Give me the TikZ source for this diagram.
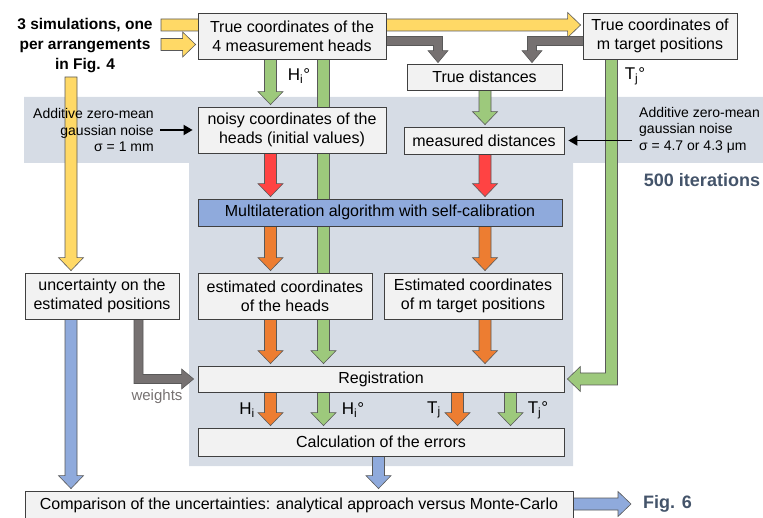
\documentclass[tikz,border=0pt]{standalone}
\usepackage{fontspec}
\setsansfont{Liberation Sans}
\RequirePackage{xcolor}
\tikzset{every picture/.style={/utils/exec={\sffamily}}}
\usetikzlibrary{calc}
\usetikzlibrary{arrows.meta}

\definecolor{bgblue}{HTML}{D6DCE5}
\definecolor{boxgray}{HTML}{F2F2F2}
\definecolor{edgegray}{HTML}{404040}
\definecolor{simyellow}{HTML}{FFD966}
\definecolor{truegreen}{HTML}{9DC97C}
\definecolor{noisered}{HTML}{FF4343}
\definecolor{estorange}{HTML}{ED7D31}
\definecolor{resblue}{HTML}{8FAADC}
\definecolor{wgray}{HTML}{767171}
\definecolor{slate}{HTML}{44546A}

\pgfdeclarelayer{shade}
\pgfdeclarelayer{pipes}
\pgfsetlayers{shade,pipes,main}

\tikzset{
  box/.style={draw=edgegray, fill=boxgray, line width=0.8pt, align=center, inner sep=0pt, font=\fontsize{16}{19}\selectfont},
  fat/.style={draw=black!65, line width=0.6pt, line join=miter},
  lbl/.style={inner sep=0pt, font=\fontsize{17}{19}\selectfont},
  note/.style={inner sep=0pt, font=\fontsize{14}{16.5}\selectfont},
  big/.style={inner sep=0pt, text=slate, font=\bfseries\fontsize{18}{20}\selectfont},
}

% fat arrow going down: colour, start, box it points at
\newcommand\vfat[3]{%
  \filldraw[fat,fill=#1] let \p1=#2, \p2=#3 in
    (\x1-6pt,\y1) -- (\x1-6pt,\y2+15pt) -- (\x1-12.5pt,\y2+15pt) -- (\x1,\y2+2pt)
    -- (\x1+12.5pt,\y2+15pt) -- (\x1+6pt,\y2+15pt) -- (\x1+6pt,\y1) -- cycle;}
% fat arrow going right
\newcommand\hfat[3]{%
  \filldraw[fat,fill=#1] let \p1=#2, \p2=#3 in
    (\x1,\y1+6pt) -- (\x2-15pt,\y1+6pt) -- (\x2-15pt,\y1+12.5pt) -- (\x2-2pt,\y1)
    -- (\x2-15pt,\y1-12.5pt) -- (\x2-15pt,\y1-6pt) -- (\x1,\y1-6pt) -- cycle;}

\begin{document}
\begin{tikzpicture}[x=1pt,y=-1pt]
  \useasboundingbox (0,0) rectangle (763,518);

  \begin{pgfonlayer}{shade}
    \fill[bgblue] (24,97) -- (763,97) -- (763,163) -- (573,163) -- (573,466)
      -- (189,466) -- (189,163) -- (24,163) -- cycle;
  \end{pgfonlayer}

  % columns of the arrows
  \coordinate (cU) at (71,0);
  \coordinate (cW) at (138.5,0);
  \coordinate (cH) at (270.5,0);
  \coordinate (cHo) at (323.5,0);
  \coordinate (cE) at (378.5,0);
  \coordinate (cG1) at (438,0);
  \coordinate (cTj) at (457.5,0);
  \coordinate (cT) at (485,0);
  \coordinate (cTjo) at (510.5,0);
  \coordinate (cG2) at (532,0);
  \coordinate (cTo) at (611.5,0);
  \coordinate (ys1) at (161,25);
  \coordinate (ys2) at (161,44.5);
  \coordinate (ys3) at (71,77);

  \node[box, minimum width=188pt, minimum height=46pt] (heads) at (292,36) {True coordinates of the\\4 measurement heads};
  \node[box, minimum width=154pt, minimum height=46pt] (targets) at (660,36) {True coordinates of\\m target positions};
  \node[box, minimum width=155pt, minimum height=26pt] (truedist) at (484.5,77) {True distances};
  \node[box, minimum width=188pt, minimum height=46pt] (noisy) at (292,130) {noisy coordinates of the\\heads (initial values)};
  \node[box, minimum width=160pt, minimum height=27pt] (measured) at (484,140.5) {measured distances};
  \node[box, fill=resblue, minimum width=364pt, minimum height=27pt] (multi) at (380,212.5) {Multilateration algorithm with self-calibration};
  \node[box, minimum width=154pt, minimum height=46pt] (uncert) at (102,296) {uncertainty on the\\estimated positions};
  \node[box, minimum width=174pt, minimum height=46pt] (esthead) at (285,296) {estimated coordinates\\of the heads};
  \node[box, minimum width=178pt, minimum height=46pt] (esttarget) at (473,296) {Estimated coordinates\\of m target positions};
  \node[box, minimum width=366pt, minimum height=26pt] (registration) at (381,379) {Registration};
  \node[box, minimum width=366pt, minimum height=28pt] (errors) at (381,442) {Calculation of the errors};
  \node[box, minimum width=548pt, minimum height=29pt] (compare) at (299,505.5) {Comparison of the uncertainties: analytical approach versus Monte-Carlo};

  \node[inner sep=0pt, align=center, font=\bfseries\fontsize{15.5}{20}\selectfont] (sims) at (85,46) {3 simulations, one\\per arrangements\\in Fig. 4};
  \node[note, align=right, anchor=east] (noiseL) at (154,130) {Additive zero-mean\\gaussian noise\\σ = 1 mm};
  \node[note, align=left, anchor=west] (noiseR) at (639,130) {Additive zero-mean\\gaussian noise\\σ = 4.7 or 4.3 μm};
  \node[big] (iter) at (702,180) {500 iterations};
  \node[big, anchor=west] (fig6) at (643,504) {Fig. 6};
  \node[note, text=wgray, font=\fontsize{15}{17}\selectfont] (wlbl) at (157,397) {weights};

  \node[lbl] (lHo) at (299,76) {H\textsubscript{i}°};
  \node[lbl] (lTo) at (635,76) {T\textsubscript{j}°};
  \node[lbl] (lHi2) at (247,410) {H\textsubscript{i}};
  \node[lbl] (lHo2) at (353,410) {H\textsubscript{i}°};
  \node[lbl] (lTj2) at (434,410) {T\textsubscript{j}};
  \node[lbl] (lTo2) at (538,410) {T\textsubscript{j}°};

  \begin{pgfonlayer}{pipes}
    \hfat{simyellow}{(ys1)}{(targets.west |- ys1)}
    \hfat{simyellow}{(ys2)}{(heads.west |- ys2)}
    \vfat{simyellow}{(ys3)}{(uncert.north -| cU)}

    \vfat{truegreen}{(heads.south -| cH)}{(noisy.north -| cH)}
    \vfat{truegreen}{(heads.south -| cHo)}{(registration.north -| cHo)}
    \vfat{truegreen}{(truedist.south -| cT)}{(measured.north -| cT)}
    \vfat{noisered}{(noisy.south -| cH)}{(multi.north -| cH)}
    \vfat{noisered}{(measured.south -| cT)}{(multi.north -| cT)}
    \vfat{estorange}{(multi.south -| cH)}{(esthead.north -| cH)}
    \vfat{estorange}{(multi.south -| cT)}{(esttarget.north -| cT)}
    \vfat{estorange}{(esthead.south -| cH)}{(registration.north -| cH)}
    \vfat{estorange}{(esttarget.south -| cT)}{(registration.north -| cT)}
    \vfat{estorange}{(registration.south -| cH)}{(errors.north -| cH)}
    \vfat{truegreen}{(registration.south -| cHo)}{(errors.north -| cHo)}
    \vfat{estorange}{(registration.south -| cTj)}{(errors.north -| cTj)}
    \vfat{truegreen}{(registration.south -| cTjo)}{(errors.north -| cTjo)}
    \vfat{resblue}{(uncert.south -| cU)}{(compare.north -| cU)}
    \vfat{resblue}{(errors.south -| cE)}{(compare.north -| cE)}
    \hfat{resblue}{(compare.east |- fig6.west)}{([xshift=-10pt]fig6.west)}

    % bent ones
    \filldraw[fat,fill=wgray] let \p1=([yshift=-5pt]heads.east), \p2=(truedist.north -| cG1) in
      (\x1,\y1+4.5pt) -- (\x2+4.5pt,\y1+4.5pt) -- (\x2+4.5pt,\y2+13pt) -- (\x2+10pt,\y2+13pt)
      -- (\x2,\y2+1pt) -- (\x2-10pt,\y2+13pt) -- (\x2-4.5pt,\y2+13pt) -- (\x2-4.5pt,\y1-4.5pt)
      -- (\x1,\y1-4.5pt) -- cycle;
    \filldraw[fat,fill=wgray] let \p1=([yshift=-5pt]targets.west), \p2=(truedist.north -| cG2) in
      (\x1,\y1+4.5pt) -- (\x2-4.5pt,\y1+4.5pt) -- (\x2-4.5pt,\y2+13pt) -- (\x2-10pt,\y2+13pt)
      -- (\x2,\y2+1pt) -- (\x2+10pt,\y2+13pt) -- (\x2+4.5pt,\y2+13pt) -- (\x2+4.5pt,\y1-4.5pt)
      -- (\x1,\y1-4.5pt) -- cycle;
    \filldraw[fat,fill=wgray] let \p1=(uncert.south -| cW), \p2=([xshift=-4pt]registration.west) in
      (\x1-4.5pt,\y1) -- (\x1-4.5pt,\y2-4.5pt) -- (\x2-12pt,\y2-4.5pt) -- (\x2-12pt,\y2-10pt)
      -- (\x2,\y2) -- (\x2-12pt,\y2+10pt) -- (\x2-12pt,\y2+4.5pt) -- (\x1+4.5pt,\y2+4.5pt)
      -- (\x1+4.5pt,\y1) -- cycle;
    \filldraw[fat,fill=truegreen] let \p1=(targets.south -| cTo), \p2=([xshift=3pt]registration.east) in
      (\x1+6pt,\y1) -- (\x1+6pt,\y2-6pt) -- (\x2+13pt,\y2-6pt) -- (\x2+13pt,\y2-12.5pt)
      -- (\x2,\y2) -- (\x2+13pt,\y2+12.5pt) -- (\x2+13pt,\y2+6pt) -- (\x1-6pt,\y2+6pt)
      -- (\x1-6pt,\y1) -- cycle;
  \end{pgfonlayer}

  \draw[line width=1.8pt, -{Triangle[length=9pt,width=10pt]}, shorten <=6pt, shorten >=5pt]
    (noisy.west -| noiseL.east) -- (noisy.west);
  \draw[line width=1.8pt, -{Triangle[length=9pt,width=10pt]}, shorten <=7pt, shorten >=4pt]
    (measured.east -| noiseR.west) -- (measured.east);
\end{tikzpicture}
\end{document}
